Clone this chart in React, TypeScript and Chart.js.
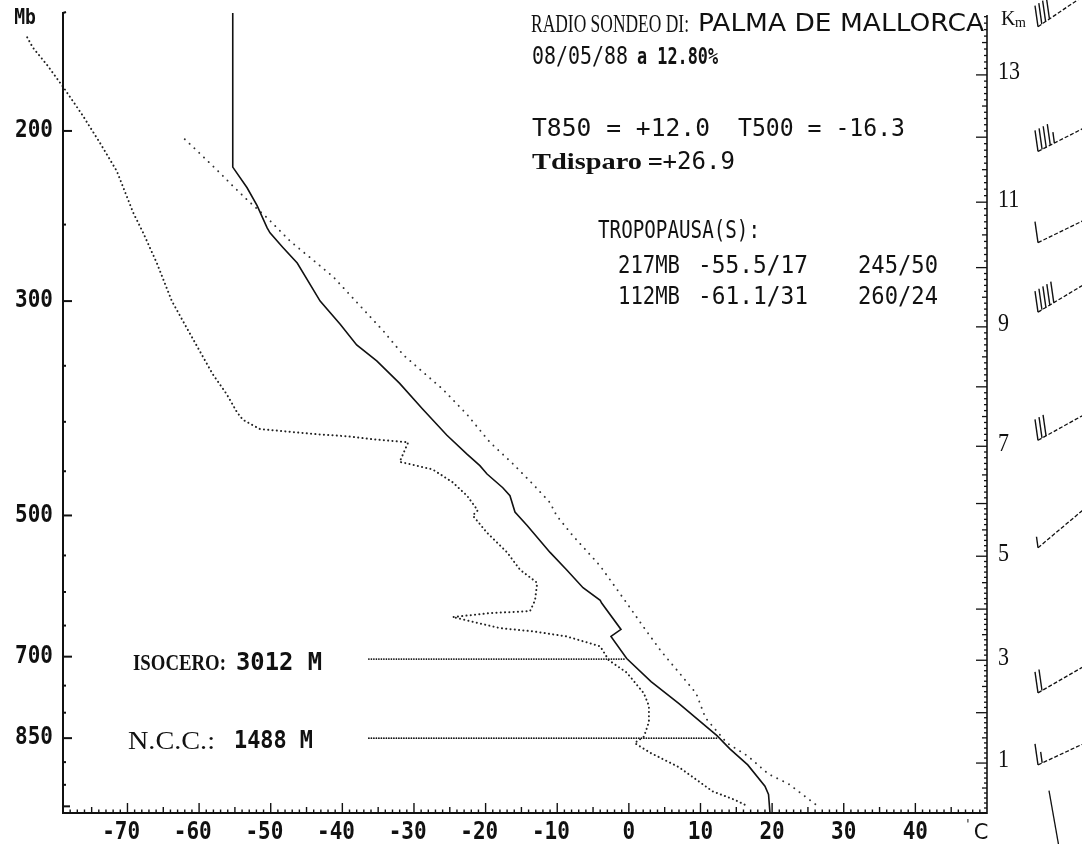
import React, { useEffect, useRef } from "react";
import { Chart, registerables } from "chart.js";

Chart.register(...registerables);

// ---- Sounding data (pressure hPa / temperature °C) ----
const tempP = [151, 218, 229, 239, 252, 255, 264, 274, 300, 317, 333, 346, 365, 388, 413, 432, 444, 453, 468, 477, 496, 512, 546, 569, 594, 612, 616, 656, 667, 703, 743, 783, 845, 872, 906, 953, 972, 1016];
const tempT = [-55.3, -55.3, -53.3, -51.9, -50.5, -50.1, -48.3, -46.3, -43.1, -40.3, -38.0, -35.2, -32.0, -28.8, -25.4, -22.6, -20.8, -19.8, -17.6, -16.6, -15.9, -14.2, -11.0, -8.7, -6.4, -4.0, -3.8, -1.1, -2.5, -0.3, 3.1, 7.0, 12.3, 14.1, 16.6, 19.0, 19.5, 19.7];

const dewP = [160, 164, 171, 180, 193, 206, 220, 243, 255, 274, 300, 320, 338, 357, 375, 391, 398, 407, 409, 412, 414, 417, 420, 440, 448, 462, 477, 494, 500, 521, 546, 569, 587, 612, 628, 631, 637, 642, 654, 659, 667, 683, 706, 727, 764, 787, 818, 847, 860, 881, 911, 965, 984, 997];
const dewT = [-84.0, -83.2, -81.2, -79.0, -76.2, -73.8, -71.5, -69.2, -67.8, -65.9, -63.8, -61.7, -59.9, -58.1, -56.1, -54.7, -53.9, -51.5, -48.3, -43.6, -39.4, -35.7, -30.8, -32.0, -27.4, -24.6, -22.6, -21.1, -21.8, -19.8, -17.0, -15.2, -12.8, -13.1, -13.8, -19.4, -24.6, -22.6, -18.0, -13.4, -8.7, -4.0, -2.8, -0.3, 2.1, 2.8, 2.8, 2.1, 0.8, 3.1, 7.0, 11.7, 14.7, 16.3];

const parcelP = [204, 211, 221, 228, 236, 246, 260, 272, 283, 298, 322, 341, 355, 370, 393, 420, 442, 464, 485, 500, 525, 544, 564, 616, 653, 691, 727, 764, 810, 860, 887, 926, 948, 997];
const parcelT = [-62.0, -59.9, -57.1, -55.3, -53.2, -50.5, -47.3, -44.1, -41.3, -38.5, -34.3, -31.5, -28.8, -26.0, -22.6, -19.4, -16.2, -13.4, -11.0, -10.1, -7.8, -5.9, -4.0, -0.3, 2.1, 4.5, 7.0, 9.4, 10.7, 13.7, 16.6, 19.5, 22.3, 26.2];

// freezing level and condensation level markers
const isoceroP = [704, 704];
const isoceroT = [-36.3, -0.6];
const nccP = [850, 850];
const nccT = [-36.3, 12.4];

// axis ticks
const pressureMajor = [200, 300, 500, 700, 850];
const pressureMinor = [250, 350, 400, 450, 550, 600, 650, 750, 800, 900, 950, 1000];
const tempLabels = [-70, -60, -50, -40, -30, -20, -10, 0, 10, 20, 30, 40];
const kmLevels = [0, 1, 2, 3, 4, 5, 6, 7, 8, 9, 10, 11, 12, 13, 14];
const kmPressure = [1016, 902, 800, 706, 625, 551, 486, 424, 368, 319, 277, 237, 203, 175, 150];
const kmLabels = [1, 3, 5, 7, 9, 11, 13];

// winds (pressure of barb tip, direction deg, speed kt)
const windP = [156, 210, 261, 308, 418, 540, 763, 906, 963];
const windDir = [236, 243, 244, 239, 241, 230, 240, 245, 350];
const windKt = [40, 45, 10, 50, 30, 5, 20, 15, 0];

const MONO = "'DejaVu Sans Mono', monospace";
const SERIF = "'Liberation Serif', 'DejaVu Serif', serif";
const SANS = "'DejaVu Sans', sans-serif";

function fitText(ctx: CanvasRenderingContext2D, text: string, x: number, y: number, w: number, font: string, sy = 1.15) {
  ctx.save();
  ctx.font = font;
  ctx.textAlign = "left";
  ctx.textBaseline = "middle";
  const m = ctx.measureText(text).width;
  ctx.translate(x, y);
  ctx.scale(w > 0 ? w / m : 1, sy);
  ctx.fillText(text, 0, 0);
  ctx.restore();
}

function seg(ctx: CanvasRenderingContext2D, x1: number, y1: number, x2: number, y2: number) {
  ctx.beginPath();
  ctx.moveTo(x1, y1);
  ctx.lineTo(x2, y2);
  ctx.stroke();
}

const soundingPlugin = {
  id: "sounding",
  afterDraw(chart: any) {
    const ctx: CanvasRenderingContext2D = chart.ctx;
    const ca = chart.chartArea;
    const xs = chart.scales.x;
    const ys = chart.scales.y;
    ctx.save();
    ctx.strokeStyle = "#111";
    ctx.fillStyle = "#111";
    ctx.lineCap = "butt";

    // frame
    ctx.lineWidth = 2;
    seg(ctx, ca.left, ca.top - 1, ca.left, ca.bottom + 1);
    seg(ctx, ca.left - 1, ca.bottom, ca.right, ca.bottom);
    seg(ctx, ca.left, ca.top, ca.left + 3, ca.top - 1);
    ctx.lineWidth = 1.6;
    seg(ctx, ca.right, ca.top + 2, ca.right, ca.bottom + 1);

    // pressure ticks
    ctx.lineWidth = 2;
    pressureMajor.forEach((p) => {
      const yy = ys.getPixelForValue(p);
      seg(ctx, ca.left, yy, ca.left + 9, yy);
    });
    pressureMinor.forEach((p) => {
      const yy = ys.getPixelForValue(p);
      seg(ctx, ca.left, yy, ca.left + (p === 1000 ? 7 : 3), yy);
    });
    ctx.font = `bold 21px ${MONO}`;
    ctx.textAlign = "right";
    ctx.textBaseline = "middle";
    pressureMajor.forEach((p) => {
      const yy = ys.getPixelForValue(p);
      ctx.save();
      ctx.translate(ca.left - 10, yy);
      ctx.scale(1, 1.15);
      ctx.fillText(String(p), 0, 0);
      ctx.restore();
    });
    ctx.save();
    ctx.textAlign = "center";
    ctx.font = `bold 19px ${MONO}`;
    ctx.translate(25, 18);
    ctx.scale(0.95, 1.15);
    ctx.fillText("Mb", 0, 0);
    ctx.restore();

    // temperature ticks
    ctx.lineWidth = 1.4;
    const tMin = Math.ceil(xs.min);
    for (let t = tMin; t < xs.max; t++) {
      const xx = xs.getPixelForValue(t);
      const len = t % 10 === 0 ? 10 : t % 5 === 0 ? 6 : 3.5;
      seg(ctx, xx, ca.bottom, xx, ca.bottom - len);
    }
    ctx.font = `bold 21px ${MONO}`;
    ctx.textAlign = "left";
    tempLabels.forEach((t) => {
      const xx = xs.getPixelForValue(t);
      const s = String(t);
      const digits = String(Math.abs(t));
      const dw = ctx.measureText(digits).width;
      const fw = ctx.measureText(s).width;
      ctx.save();
      ctx.translate(xx + dw / 2 - fw, ca.bottom + 20);
      ctx.scale(1, 1.15);
      ctx.fillText(s, 0, 0);
      ctx.restore();
    });
    ctx.font = `21px ${SANS}`;
    ctx.textAlign = "center";
    ctx.fillText("C", 981, ca.bottom + 21);
    ctx.font = `12px ${SANS}`;
    ctx.fillText("'", 968, ca.bottom + 12);

    // height (km) axis
    ctx.lineWidth = 1.3;
    for (let i = 0; i < kmLevels.length; i++) {
      const yy = ys.getPixelForValue(kmPressure[i]);
      if (yy >= ca.top && yy <= ca.bottom) seg(ctx, ca.right - 11, yy, ca.right, yy);
      if (i < kmLevels.length - 1) {
        const a = Math.log(kmPressure[i]);
        const b = Math.log(kmPressure[i + 1]);
        for (let k = 1; k < 10; k++) {
          const pp = Math.exp(a + ((b - a) * k) / 10);
          const y2 = ys.getPixelForValue(pp);
          if (y2 < ca.top + 2 || y2 > ca.bottom) continue;
          seg(ctx, ca.right - (k === 5 ? 5 : 3), y2, ca.right, y2);
        }
      }
    }
    ctx.font = `22px ${SERIF}`;
    ctx.textAlign = "left";
    kmLabels.forEach((km) => {
      const idx = kmLevels.indexOf(km);
      const yy = ys.getPixelForValue(kmPressure[idx]);
      ctx.save();
      ctx.translate(ca.right + 11, yy - 2);
      ctx.scale(1, 1.1);
      ctx.fillText(String(km), 0, 0);
      ctx.restore();
    });
    ctx.font = `20px ${SERIF}`;
    ctx.fillText("K", ca.right + 14, 20);
    ctx.font = `14px ${SERIF}`;
    ctx.fillText("m", ca.right + 28, 23);

    // wind barbs
    for (let i = 0; i < windP.length; i++) {
      const th = (windDir[i] * Math.PI) / 180;
      const ux = Math.sin(th);
      const uy = -Math.cos(th);
      const tipX = windKt[i] === 0 ? 1049 : 1038;
      const tipY = ys.getPixelForValue(windP[i]);
      const L = 64;
      ctx.lineWidth = 1.3;
      ctx.setLineDash(windKt[i] === 0 ? [] : [4, 2]);
      seg(ctx, tipX, tipY, tipX - L * ux, tipY - L * uy);
      ctx.setLineDash([]);
      let kt = windKt[i];
      let d = 0;
      ctx.lineWidth = 1.4;
      while (kt >= 10) {
        const px = tipX - d * ux;
        const py = tipY - d * uy;
        seg(ctx, px, py, px - 3, py - 21);
        kt -= 10;
        d += 4.6;
      }
      if (kt >= 5) {
        const px = tipX - d * ux;
        const py = tipY - d * uy;
        seg(ctx, px, py, px - 1.5, py - 11);
      }
    }

    // annotation texts
    fitText(ctx, "RADIO SONDEO DI:", 531, 25, 158, `22px ${SERIF}`, 1.15);
    fitText(ctx, "PALMA DE MALLORCA", 698, 25, 286, `20px ${SANS}`, 1.2);
    fitText(ctx, "08/05/88", 532, 58, 96, `20px ${MONO}`, 1.2);
    fitText(ctx, "a 12.80%", 637, 58, 81, `bold 20px ${MONO}`, 1.15);
    fitText(ctx, "T850 = +12.0", 532, 130, 178, `20px ${MONO}`, 1.2);
    fitText(ctx, "T500 = -16.3", 738, 130, 167, `20px ${MONO}`, 1.2);
    fitText(ctx, "Tdisparo", 532, 163, 110, `bold 21px ${SERIF}`, 1.1);
    fitText(ctx, "=+26.9", 648, 163, 87, `20px ${MONO}`, 1.2);
    fitText(ctx, "TROPOPAUSA(S):", 598, 232, 162, `20px ${MONO}`, 1.2);
    fitText(ctx, "217MB", 618, 267, 62, `20px ${MONO}`, 1.2);
    fitText(ctx, "-55.5/17", 698, 267, 110, `20px ${MONO}`, 1.2);
    fitText(ctx, "245/50", 858, 267, 80, `20px ${MONO}`, 1.2);
    fitText(ctx, "112MB", 618, 298, 62, `20px ${MONO}`, 1.2);
    fitText(ctx, "-61.1/31", 698, 298, 110, `20px ${MONO}`, 1.2);
    fitText(ctx, "260/24", 858, 298, 80, `20px ${MONO}`, 1.2);

    const yIso = ys.getPixelForValue(isoceroP[0]);
    const yNcc = ys.getPixelForValue(nccP[0]);
    fitText(ctx, "ISOCERO:", 133, yIso + 5, 93, `bold 21px ${SERIF}`, 1.05);
    fitText(ctx, "3012 M", 236, yIso + 5, 86, `bold 20px ${MONO}`, 1.2);
    fitText(ctx, "N.C.C.:", 128, yNcc + 4, 87, `21px ${SERIF}`, 1.2);
    fitText(ctx, "1488 M", 234, yNcc + 4, 79, `bold 20px ${MONO}`, 1.2);

    ctx.restore();
  },
};

function pts(ps: number[], ts: number[]) {
  return ps.map((p, i) => ({ x: ts[i], y: p }));
}

export default function App() {
  const ref = useRef<HTMLCanvasElement>(null);
  useEffect(() => {
    if (!ref.current) return;
    const dotted = {
      showLine: true,
      pointRadius: 0,
      borderCapStyle: "round" as const,
      backgroundColor: "#222",
    };
    const chart = new Chart(ref.current, {
      type: "scatter",
      data: {
        datasets: [
          {
            label: "Temperatura",
            data: pts(tempP, tempT),
            showLine: true,
            pointRadius: 0,
            borderColor: "#111",
            borderWidth: 1.6,
          },
          {
            ...dotted,
            label: "Punto de rocío",
            data: pts(dewP, dewT),
            borderColor: "#222",
            borderWidth: 2,
            borderDash: [0.1, 4.2],
            clip: false,
          },
          {
            ...dotted,
            label: "Curva de estado",
            data: pts(parcelP, parcelT),
            borderColor: "#333",
            borderWidth: 1.9,
            borderDash: [0.1, 6.5],
          },
          {
            ...dotted,
            label: "Isocero",
            data: pts(isoceroP, isoceroT),
            borderColor: "#111",
            borderWidth: 1.7,
            borderDash: [0.1, 2.4],
          },
          {
            ...dotted,
            label: "NCC",
            data: pts(nccP, nccT),
            borderColor: "#111",
            borderWidth: 1.7,
            borderDash: [0.1, 2.4],
          },
        ],
      },
      options: {
        responsive: false,
        animation: false,
        devicePixelRatio: 1,
        layout: { padding: { left: 63, right: 95, top: 13, bottom: 31 } },
        plugins: { legend: { display: false }, tooltip: { enabled: false } },
        scales: {
          x: { type: "linear", min: -79, max: 50, display: false },
          y: { type: "logarithmic", min: 151, max: 1016, reverse: true, display: false },
        },
      },
      plugins: [soundingPlugin],
    });
    return () => chart.destroy();
  }, []);
  return (
    <div style={{ position: "absolute", left: 0, top: 0, width: 1082, height: 844, background: "#fff" }}>
      <canvas ref={ref} width={1082} height={844} style={{ display: "block" }} />
    </div>
  );
}
